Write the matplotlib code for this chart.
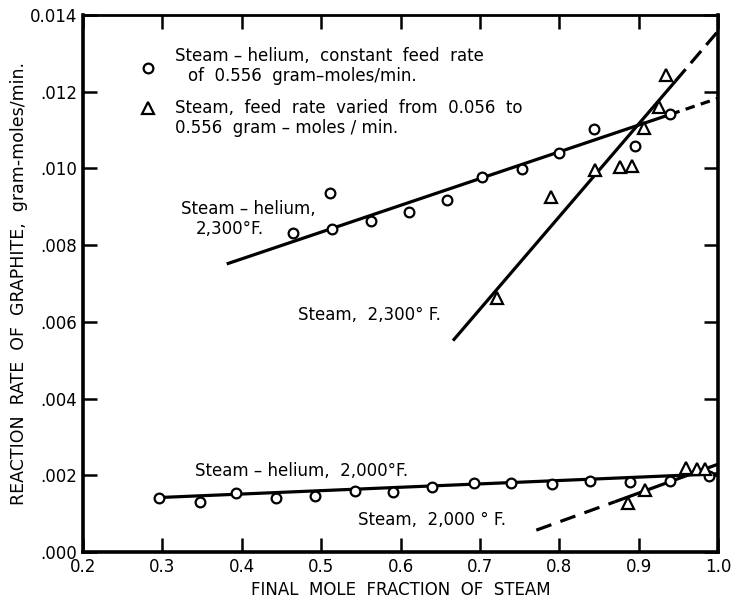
import numpy as np
import matplotlib.pyplot as plt

# steam-helium, 2,300 F (constant feed rate)
he2300_x = [0.464, 0.511, 0.513, 0.563, 0.610, 0.659, 0.703, 0.753, 0.799, 0.844, 0.895, 0.940]
he2300_y = [0.00832, 0.00936, 0.00842, 0.00862, 0.00886, 0.00918, 0.00978, 0.00998, 0.01039, 0.01102, 0.01059, 0.01141]

# steam, 2,300 F (feed rate varied)
st2300_x = [0.722, 0.790, 0.845, 0.877, 0.891, 0.907, 0.925, 0.935]
st2300_y = [0.00661, 0.00926, 0.00996, 0.01005, 0.01007, 0.01106, 0.01159, 0.01244]

# steam-helium, 2,000 F
he2000_x = [0.296, 0.347, 0.393, 0.443, 0.492, 0.543, 0.591, 0.640, 0.692, 0.739, 0.791, 0.839, 0.889, 0.939, 0.989]
he2000_y = [0.00140, 0.00131, 0.00153, 0.00141, 0.00146, 0.00160, 0.00156, 0.00169, 0.00179, 0.00181,
            0.00177, 0.00185, 0.00182, 0.00186, 0.00199]

# steam, 2,000 F
st2000_x = [0.887, 0.908, 0.960, 0.973, 0.983]
st2000_y = [0.00129, 0.00162, 0.00218, 0.00216, 0.00216]

# fitted lines: (x, y) of solid part and dashed extension
he2300_fit_x = [0.381, 0.940]
he2300_fit_y = [0.00751, 0.01141]
he2300_ext_x = [0.940, 1.0]
he2300_ext_y = [0.01141, 0.01183]

st2300_fit_x = [0.666, 0.946]
st2300_fit_y = [0.00551, 0.01227]
st2300_ext_x = [0.946, 1.0]
st2300_ext_y = [0.01227, 0.01358]

he2000_fit_x = [0.296, 1.0]
he2000_fit_y = [0.00142, 0.00204]

st2000_fit_x = [0.870, 1.0]
st2000_fit_y = [0.00131, 0.00229]
st2000_ext_x = [0.771, 0.870]
st2000_ext_y = [0.00057, 0.00131]

xticks = [0.2, 0.3, 0.4, 0.5, 0.6, 0.7, 0.8, 0.9, 1.0]
xticklabels = ["0.2", "0.3", "0.4", "0.5", "0.6", "0.7", "0.8", "0.9", "1.0"]
yticks = [0.0, 0.002, 0.004, 0.006, 0.008, 0.010, 0.012, 0.014]
yticklabels = [".000", ".002", ".004", ".006", ".008", ".010", ".012", "0.014"]

plt.rcParams['font.family'] = ['DejaVu Sans']

fig = plt.figure(figsize=(7.35, 6.0), dpi=100)
ax = fig.add_axes([0.113, 0.08, 0.864, 0.895])

lw = 2.3
ax.plot(he2300_fit_x, he2300_fit_y, color='black', lw=lw, solid_capstyle='butt')
ax.plot(he2300_ext_x, he2300_ext_y, color='black', lw=lw, dashes=(3, 2))
ax.plot(st2300_fit_x, st2300_fit_y, color='black', lw=lw, solid_capstyle='butt')
ax.plot(st2300_ext_x, st2300_ext_y, color='black', lw=lw, dashes=(5, 2.5))
ax.plot(he2000_fit_x, he2000_fit_y, color='black', lw=lw, solid_capstyle='butt')
ax.plot(st2000_fit_x, st2000_fit_y, color='black', lw=lw, solid_capstyle='butt')
ax.plot(st2000_ext_x, st2000_ext_y, color='black', lw=lw, dashes=(5, 3))

circ = dict(marker='o', ms=7, mfc='white', mec='black', mew=1.6, ls='none', zorder=3)
tri = dict(marker='^', ms=8, mfc='white', mec='black', mew=1.6, ls='none', zorder=3)
ax.plot(he2300_x, he2300_y, **circ)
ax.plot(he2000_x, he2000_y, **circ)
ax.plot(st2300_x, st2300_y, **tri)
ax.plot(st2000_x, st2000_y, **tri)

# key drawn inside the plot area
ax.plot([0.282], [0.01262], **circ)
ax.plot([0.282], [0.01157], **tri)
fs = 12
ax.text(0.316, 0.01293, "Steam – helium,  constant  feed  rate", fontsize=fs, va='center')
ax.text(0.332, 0.01241, "of  0.556  gram–moles/min.", fontsize=fs, va='center')
ax.text(0.316, 0.01157, "Steam,  feed  rate  varied  from  0.056  to", fontsize=fs, va='center')
ax.text(0.316, 0.01105, "0.556  gram – moles / min.", fontsize=fs, va='center')

ax.text(0.323, 0.00893, "Steam – helium,", fontsize=fs, va='center')
ax.text(0.342, 0.00842, "2,300°F.", fontsize=fs, va='center')
ax.text(0.471, 0.00618, "Steam,  2,300° F.", fontsize=fs, va='center')
ax.text(0.341, 0.00210, "Steam – helium,  2,000°F.", fontsize=fs, va='center')
ax.text(0.546, 0.00083, "Steam,  2,000 ° F.", fontsize=fs, va='center')

ax.set_xlim(0.2, 1.0)
ax.set_ylim(0.0, 0.014)
ax.set_xticks(xticks)
ax.set_xticklabels(xticklabels)
ax.set_yticks(yticks)
ax.set_yticklabels(yticklabels)
ax.tick_params(direction='in', length=10, width=1.8, labelsize=12, top=True, right=True, pad=4)

for side in ['left', 'bottom', 'right']:
    ax.spines[side].set_linewidth(2.6)
ax.spines['top'].set_linewidth(2.0)

ax.set_xlabel("FINAL  MOLE  FRACTION  OF  STEAM", fontsize=12, va='center')
ax.xaxis.set_label_coords(0.5, -0.070)
ax.set_ylabel("REACTION  RATE  OF  GRAPHITE,  gram-moles/min.", fontsize=12.5, va='center')
ax.yaxis.set_label_coords(-0.101, 0.5)

fig.savefig("out.png", dpi=100)
